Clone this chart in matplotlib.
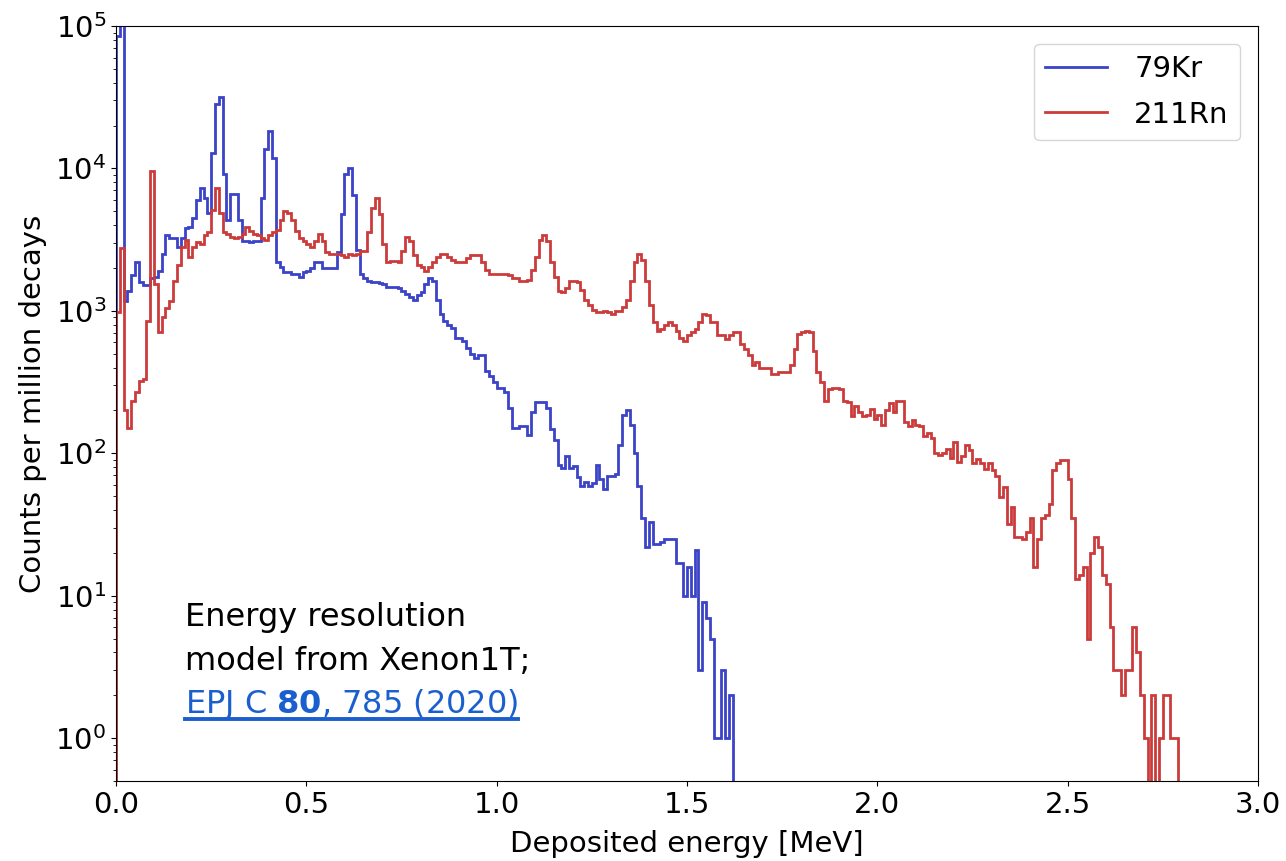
import numpy as np
import matplotlib
matplotlib.use('Agg')
import matplotlib.pyplot as plt
from matplotlib.lines import Line2D

# counts per million decays in 10 keV bins starting at 0 MeV
bin_width = 0.01

kr79 = [85000, 320000, 1175, 1380, 1780, 2190, 1585, 1515, 1515, 1700,
        1740, 1905, 2510, 3390, 3240, 3240, 2820, 3240, 3800, 3890,
        4470, 6030, 7240, 6170, 4900, 12900, 28200, 31600, 9120, 4370,
        6610, 6610, 4370, 3090, 3090, 3020, 3100, 3090, 6170, 13800,
        18200, 11750, 2190, 2040, 1860, 1860, 1820, 1820, 1740, 1860,
        1905, 2000, 2190, 2190, 2000, 2000, 2000, 2000, 2570, 4790,
        9120, 10000, 6460, 2690, 1820, 1700, 1620, 1600, 1585, 1570,
        1550, 1480, 1470, 1460, 1445, 1380, 1320, 1260, 1200, 1290,
        1350, 1550, 1700, 1620, 1200, 955, 850, 795, 760, 645,
        645, 617, 550, 500, 468, 490, 490, 380, 347, 316,
        288, 288, 269, 209, 151, 151, 155, 155, 135, 195,
        229, 229, 229, 209, 148, 123, 83, 79, 95, 79,
        81, 68, 59, 63, 59, 62, 83, 66, 56, 69,
        69, 72, 115, 186, 200, 158, 100, 59, 35, 22,
        33, 23, 23, 24, 25, 25, 25, 17, 17, 10,
        16, 10, 21, 3, 9, 7, 5, 1, 1, 3,
        1, 2]

rn211 = [977, 2750, 200, 151, 234, 269, 324, 331, 851, 9550,
         1550, 708, 912, 1047, 1175, 1620, 2090, 2820, 3160, 2400,
         2820, 3020, 2950, 3390, 3550, 5130, 7240, 4900, 3550, 3470,
         3310, 3240, 3310, 3470, 3890, 3630, 3470, 3390, 3240, 3160,
         3390, 3550, 3720, 4370, 5010, 4900, 4370, 3630, 3240, 3090,
         2950, 2820, 3090, 3470, 3090, 2570, 2510, 2510, 2510, 2455,
         2400, 2510, 2455, 2510, 2630, 2630, 3550, 5250, 6170, 4790,
         2950, 2190, 2240, 2240, 2190, 2630, 3310, 3090, 2455, 2090,
         2040, 1905, 2040, 2190, 2400, 2510, 2510, 2400, 2290, 2190,
         2190, 2190, 2340, 2455, 2455, 2455, 2190, 1950, 1820, 1820,
         1820, 1820, 1820, 1780, 1700, 1700, 1620, 1620, 1660, 1950,
         2400, 3160, 3390, 3090, 2190, 1740, 1380, 1350, 1445, 1620,
         1620, 1585, 1410, 1200, 1100, 1020, 977, 977, 990, 977,
         955, 1000, 1000, 1070, 1200, 1620, 2190, 2510, 2290, 1620,
         1100, 832, 724, 741, 794, 832, 794, 724, 646, 617,
         676, 708, 741, 832, 955, 933, 832, 832, 676, 676,
         631, 676, 708, 708, 589, 537, 490, 417, 437, 398,
         398, 398, 363, 363, 372, 372, 372, 417, 537, 692,
         708, 724, 708, 525, 372, 316, 234, 282, 288, 288,
         282, 234, 229, 182, 214, 195, 182, 186, 204, 174,
         186, 158, 200, 224, 195, 234, 234, 166, 155, 170,
         158, 155, 132, 138, 129, 100, 98, 100, 107, 93,
         120, 87, 95, 115, 105, 85, 91, 85, 78, 85,
         76, 69, 49, 58, 32, 42, 26, 26, 25, 28,
         35, 16, 25, 35, 37, 44, 76, 85, 89, 89,
         66, 35, 13, 14, 16, 5, 20, 26, 22, 14,
         12, 6, 3, 3, 2, 3, 3, 6, 4, 2,
         1, 0, 2, 0, 1, 2, 2, 1, 1]

font = {'size': 21}
plt.rc('font', **font)

fig = plt.figure(figsize=(12.86, 8.61), dpi=100)
ax = fig.add_axes([0.0902, 0.0929, 0.888, 0.8769])

kr_edges = np.arange(len(kr79) + 1) * bin_width
rn_edges = np.arange(len(rn211) + 1) * bin_width
ax.stairs(kr79, kr_edges, color='#3b43c8', linewidth=2, label='79Kr')
ax.stairs(rn211, rn_edges, color='#cc3b3b', linewidth=2, label='211Rn')

ax.set_yscale('log')
ax.set_xlim(0, 3.0)
ax.set_ylim(0.5, 1e5)
ax.set_xticks([0.0, 0.5, 1.0, 1.5, 2.0, 2.5, 3.0])
ax.set_xlabel('Deposited energy [MeV]', labelpad=8)
ax.set_ylabel('Counts per million decays', labelpad=6)
ax.legend(loc='upper right', handlelength=2.1, handletextpad=0.95,
          labelspacing=0.6, borderaxespad=0.6)

# annotation, last line styled as a link
fw, fh = fig.get_size_inches() * fig.dpi
x0 = 185 / fw
fig.text(x0, 1 - 626 / fh, 'Energy resolution', fontsize=23, va='baseline')
fig.text(x0, 1 - 670 / fh, 'model from Xenon1T;', fontsize=23, va='baseline')
ref = fig.text(x0, 1 - 713 / fh, r'EPJ C $\mathbf{80}$, 785 (2020)',
               fontsize=23, va='baseline', color='#1b5fcf')
fig.canvas.draw()
bb = ref.get_window_extent(fig.canvas.get_renderer())
uy = 1 - 719 / fh
fig.add_artist(Line2D([bb.x0 / fw, bb.x1 / fw], [uy, uy],
                      transform=fig.transFigure, color='#1b5fcf', lw=2.8))

plt.savefig('out.png', dpi=100)
